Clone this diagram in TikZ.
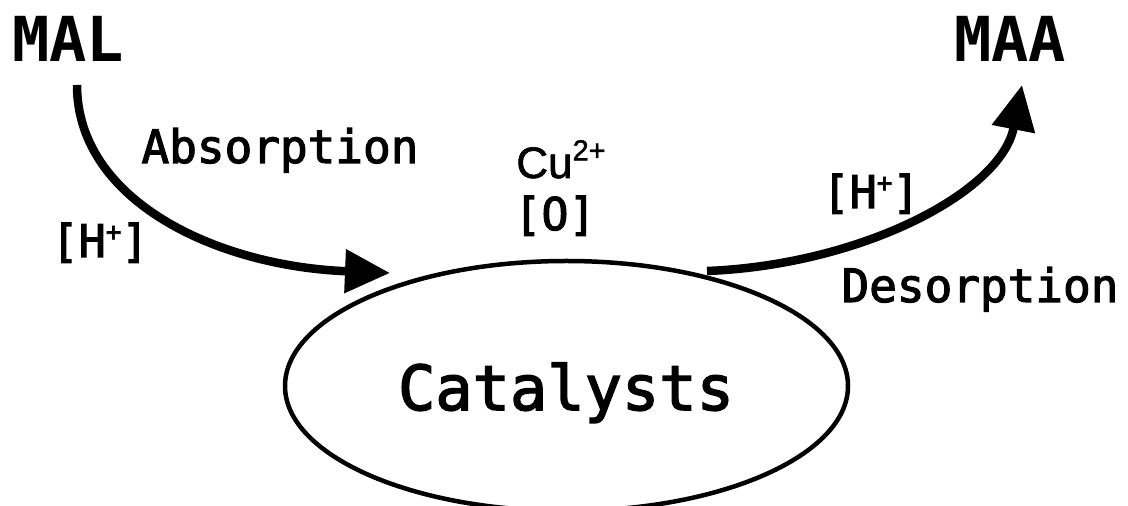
\documentclass[tikz,border=0pt]{standalone}
\usepackage{fontspec}
\setmainfont{Liberation Sans}
\newfontfamily\labelmono[FakeBold=2.5]{DejaVu Sans Mono}
\newfontfamily\headmono{DejaVu Sans Mono Bold}
\newfontfamily\ionfont[FakeBold=1.5]{Liberation Sans}
\usetikzlibrary{arrows.meta,shapes.geometric}

\tikzset{
  species/.style={font=\headmono\fontsize{62}{66}\selectfont, inner sep=0pt, anchor=base},
  steplabel/.style={font=\labelmono\fontsize{46}{50}\selectfont, inner sep=0pt, anchor=base},
  cond/.style={font=\labelmono\fontsize{45}{49}\selectfont, inner sep=0pt, anchor=base},
  flow/.style={line width=8.5pt, -{Triangle[length=45pt,width=42pt]}},
  surface/.style={draw, ellipse, line width=4.5pt, minimum width=563pt, minimum height=250pt, inner sep=0pt},
}

\begin{document}
\begin{tikzpicture}[x=1pt,y=1pt]
  \useasboundingbox (0,0) rectangle (1128,506);
  \begin{scope}
    \clip (0,0) rectangle (1128,506);

    % catalyst surface
    \node[surface] (cat) at (566.5,120) {};
    \node[font=\labelmono\fontsize{62}{66}\selectfont, inner sep=0pt, anchor=base] (catlabel) at (566,96) {Catalysts};

    % reactant and product
    \node[species] (mal) at (68,444) {MAL};
    \node[species] (maa) at (1010,444) {MAA};

    % ends of the two reaction arrows
    \coordinate (absStart) at (77,421);
    \coordinate (absEnd) at (390,233);
    \coordinate (desStart) at (707,235);
    \coordinate (desEnd) at (1022,421);

    \draw[flow] (absStart) .. controls (77,306) and (215,240) .. (absEnd);
    \draw[flow] (desStart) .. controls (860,241) and (1001,313) .. (desEnd);

    % step labels
    \node[steplabel] (abs) at (280,343) {Absorption};
    \node[steplabel] (des) at (980,204) {Desorption};
    \node[cond] (hleft) at (100,249) {[H\raisebox{0.36em}{\fontsize{26}{28}\selectfont+}]};
    \node[cond] (hright) at (871,298) {[H\raisebox{0.36em}{\fontsize{26}{28}\selectfont+}]};

    % oxidation conditions
    \node[font=\ionfont\fontsize{44}{48}\selectfont, inner sep=0pt, anchor=base] (cu) at (561,328) {Cu\raisebox{0.40em}{\fontsize{29}{32}\selectfont 2+}};
    \node[cond] (ox) at (555,276) {[O]};
  \end{scope}
\end{tikzpicture}
\end{document}
